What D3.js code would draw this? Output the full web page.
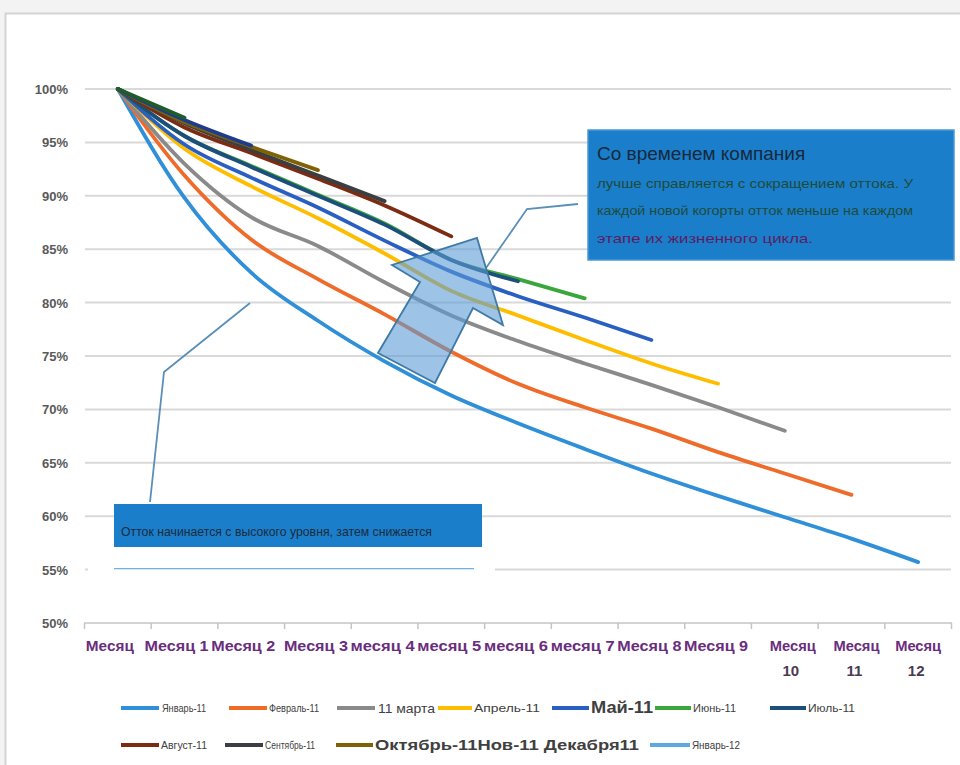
<!DOCTYPE html>
<html><head><meta charset="utf-8">
<script src="https://cdn.jsdelivr.net/npm/d3@7"></script>
<style>
html,body{margin:0;padding:0;background:#f3f3f3;}
svg{display:block;}
</style></head>
<body>
<svg id="c" width="960" height="765"></svg>
<script>
// ---- data ----
const categories = ["Месяц","Месяц 1","Месяц 2","Месяц 3","месяц 4","месяц 5","месяц 6","месяц 7","Месяц 8","Месяц 9","Месяц 10","Месяц 11","Месяц 12"];
const seriesNames = ["Январь-11","Февраль-11","11 марта","Апрель-11","Май-11","Июнь-11","Июль-11","Август-11","Сентябрь-11","Октябрь-11","Нов-11","Декабря11","Январь-12"];
const jan11 = [100, 89.8, 82.8, 78.3, 74.5, 71.3, 68.7, 66.3, 64.0, 61.9, 59.9, 57.9, 55.7];
const feb11 = [100, 91.9, 85.9, 82.2, 78.9, 75.4, 72.4, 70.2, 68.2, 66.0, 64.0, 62.0];
const mar11 = [100, 93.0, 88.0, 85.3, 81.9, 78.8, 76.4, 74.3, 72.3, 70.2, 68.0];
const apr11 = [100, 94.4, 90.9, 87.9, 84.6, 81.1, 78.8, 76.5, 74.3, 72.4];
const may11 = [100, 94.8, 91.7, 88.9, 85.8, 82.9, 80.6, 78.6, 76.5];
const jun11 = [100, 95.6, 92.8, 90.1, 87.4, 84.0, 82.2, 80.4];
const jul11 = [100, 95.6, 92.7, 90.0, 87.3, 84.0, 82.0];
const aug11 = [100, 96.4, 94.0, 91.6, 89.1, 86.2];
const sep11 = [100, 96.8, 94.3, 91.9, 89.5];
const oct11 = [100, 96.9, 94.6, 92.4];
const nov11 = [100, 97.1, 94.7];
const dec11 = [100, 97.3];
const jan12 = [100];
const yTicks = [50,55,60,65,70,75,80,85,90,95,100];
const boxTitle = "Со временем компания";
const boxLines = ["лучше справляется с сокращением оттока. У","каждой новой когорты отток меньше на каждом","этапе их жизненного цикла."];
const box2Text = "Отток начинается с высокого уровня, затем снижается";

const values = [jan11,feb11,mar11,apr11,may11,jun11,jul11,aug11,sep11,oct11,nov11,dec11,jan12];
const colors = ["#2f8fd8","#ef6b2a","#8a8a8a","#ffbd00","#2a5fc2","#3aa63c","#1d4f7c","#7d2c12","#3c3f41","#7f6206","#1f3c8c","#1f5c2c","#5aa9e3"];

const svg = d3.select("#c");
// panel
svg.append("rect").attr("x",5.5).attr("y",13.5).attr("width",980).attr("height",780)
  .attr("fill","#fff").attr("stroke","#d4d4d4").attr("stroke-width",2);

const x = d3.scaleBand().domain(categories).range([84.5, 951.5]).paddingInner(0).paddingOuter(0);
const xc = c => x(c) + x.bandwidth()/2;
const y = d3.scaleLinear().domain([50,100]).range([623, 89]);

// gridlines
const g = svg.append("g");
g.selectAll("line.grid").data(yTicks.filter(t=>t>50)).join("line")
  .attr("x1",85).attr("x2",951).attr("y1",d=>y(d)).attr("y2",d=>y(d))
  .attr("stroke","#d9d9d9").attr("stroke-width",2);
// axis line + ticks
svg.append("line").attr("x1",84).attr("x2",952).attr("y1",y(50)).attr("y2",y(50)).attr("stroke","#c4c4c4").attr("stroke-width",1.5);
const bounds = categories.map(c=>x(c)).concat([x(categories[categories.length-1])+x.bandwidth()]);
svg.selectAll("line.tk").data(bounds).join("line")
  .attr("x1",d=>d).attr("x2",d=>d).attr("y1",y(50)).attr("y2",y(50)+6).attr("stroke","#c4c4c4").attr("stroke-width",1.5);

// y labels
svg.selectAll("text.yl").data(yTicks).join("text")
  .attr("x",68).attr("y",d=>y(d)+5).attr("text-anchor","end")
  .attr("font-family","Liberation Sans, Arial, sans-serif").attr("font-weight","bold").attr("font-size",13)
  .attr("fill","#595959").text(d=>d+"%");

// x labels
const xl = svg.append("g").attr("font-family","'Liberation Sans Narrow', 'Liberation Sans', sans-serif")
  .attr("font-weight","bold").attr("font-size",15).attr("fill","#6a2d7e");
const wrapShift = [8, 5, 0];
categories.forEach((c,i)=>{
  const parts = c.split(" ");
  if (i >= 10) {
    const sh = wrapShift[i-10];
    xl.append("text").attr("x",xc(c)+sh).attr("y",651).attr("text-anchor","middle").attr("textLength",46).attr("lengthAdjust","spacingAndGlyphs").text(parts[0]);
    xl.append("text").attr("x",xc(c)+sh-2).attr("y",676).attr("text-anchor","middle").attr("fill","#4a3a52").text(parts[1]);
  } else {
    const w = i===0 ? 48 : 64;
    xl.append("text").attr("x",xc(c)-(i===0?8:(i<3?8:2))).attr("y",651).attr("text-anchor","middle").attr("textLength",w).attr("lengthAdjust","spacingAndGlyphs").text(c);
  }
});

// lines
const line = d3.line().x((d,i)=>xc(categories[i])).y(d=>y(d)).curve(d3.curveMonotoneX);
values.forEach((v,k)=>{
  if (v.length > 1) {
    svg.append("path").attr("d",line(v)).attr("fill","none").attr("stroke",colors[k])
      .attr("stroke-width",3.8).attr("stroke-linecap","round").attr("stroke-linejoin","round");
  }
});

// white cover over 55% gridline behind box 2, plus thin blue line
svg.append("rect").attr("x",88).attr("y",y(55)-2).attr("width",407).attr("height",4).attr("fill","#fff");
svg.append("line").attr("x1",114).attr("x2",474).attr("y1",y(55)-1).attr("y2",y(55)-1).attr("stroke","#6fb0e0").attr("stroke-width",1.2);

// callout lines
svg.append("polyline").attr("points","250,303 164,372 150,502").attr("fill","none").attr("stroke","#5a8fb8").attr("stroke-width",1.8);
svg.append("polyline").attr("points","578,204 527,209 486,268").attr("fill","none").attr("stroke","#5a8fb8").attr("stroke-width",1.8);

// block arrow
svg.append("polygon").attr("points","378,353 435,383 473,308 503,325 477,238 392,265 420,282")
  .attr("fill","#5b9bd5").attr("fill-opacity",0.6).attr("stroke","#3f7aa6").attr("stroke-width",1.8).attr("stroke-linejoin","miter");

// box 1
svg.append("rect").attr("x",588).attr("y",130).attr("width",366).attr("height",130).attr("fill","#1b7ecb").attr("stroke","#4a98d6").attr("stroke-width",1.5);
svg.append("text").attr("x",597).attr("y",160).attr("font-family","Liberation Sans, Arial, sans-serif").attr("font-size",19)
  .attr("fill","#17293b").text(boxTitle);
const bl = [{y:188,w:316,c:"#1e4c3a"},{y:215,w:316,c:"#1e4c3a"},{y:243,w:216,c:"#5c1d62"}];
boxLines.forEach((t,i)=>{
  svg.append("text").attr("x",597).attr("y",bl[i].y).attr("font-family","Liberation Sans, Arial, sans-serif").attr("font-size",13)
    .attr("fill",bl[i].c).attr("textLength",bl[i].w).attr("lengthAdjust","spacingAndGlyphs").text(t);
});

// box 2
svg.append("rect").attr("x",114).attr("y",504).attr("width",368).attr("height",43).attr("fill","#1b7ecb");
svg.append("text").attr("x",121).attr("y",536).attr("font-family","'Liberation Sans Narrow', 'Liberation Sans', sans-serif").attr("font-size",13)
  .attr("fill","#1a2c3c").attr("textLength",311).attr("lengthAdjust","spacingAndGlyphs").text(box2Text);

// legend
const legendLayout = [
  {s:0, row:0, sx:121, sw:38, lx:162, lw:44, fs:10},
  {s:1, row:0, sx:229, sw:38, lx:269, lw:50, fs:10},
  {s:2, row:0, sx:337, sw:38, lx:378, lw:57, fs:13},
  {s:3, row:0, sx:438, sw:34, lx:474, lw:66, fs:10},
  {s:4, row:0, sx:552, sw:37, lx:591, lw:62, fs:16, b:true},
  {s:5, row:0, sx:655, sw:36, lx:693, lw:43, fs:10},
  {s:6, row:0, sx:770, sw:36, lx:808, lw:47, fs:10},
  {s:7, row:1, sx:121, sw:38, lx:161, lw:46, fs:10},
  {s:8, row:1, sx:225, sw:38, lx:265, lw:50, fs:10},
  {s:9, row:1, sx:336, sw:37, lx:375, fs:14, b:true, text:"Октябрь-11Нов-11 Декабря11", lw:264},
  {s:12, row:1, sx:650, sw:40, lx:692, lw:48, fs:10}
];
const rowY = [708, 745];
legendLayout.forEach(L=>{
  svg.append("line").attr("x1",L.sx).attr("x2",L.sx+L.sw).attr("y1",rowY[L.row]).attr("y2",rowY[L.row])
    .attr("stroke",colors[L.s]).attr("stroke-width",4);
  svg.append("text").attr("x",L.lx).attr("y",rowY[L.row]+(L.fs>=13?5:4))
    .attr("font-family","'Liberation Sans Narrow', 'Liberation Sans', sans-serif")
    .attr("font-size",L.fs).attr("font-weight",L.b?"bold":"normal").attr("fill","#404040")
    .attr("textLength",L.lw).attr("lengthAdjust","spacingAndGlyphs")
    .text(L.text || seriesNames[L.s]);
});
</script>
</body></html>
